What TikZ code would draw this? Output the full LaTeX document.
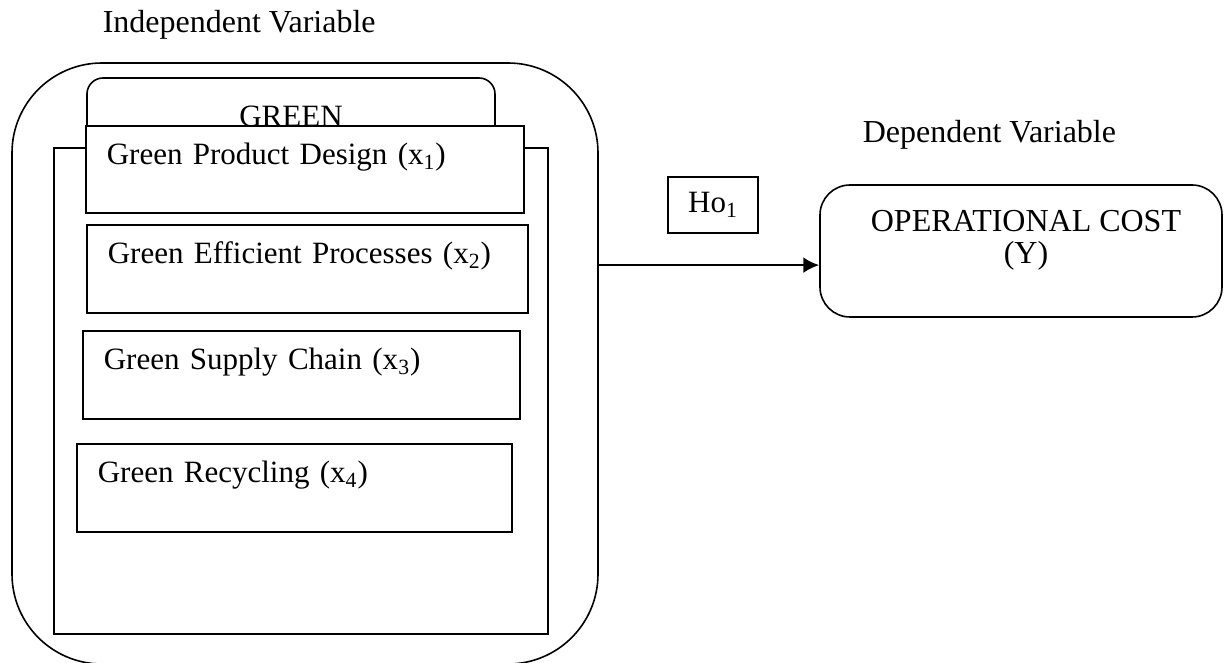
\documentclass[tikz,border=0pt]{standalone}
\usepackage{fontspec}
\setmainfont{Liberation Serif}
\usetikzlibrary{arrows.meta}

\begin{document}
\begin{tikzpicture}[x=0.5pt,y=-0.5pt,line width=0.8pt]
\tikzset{>={Latex[width=2.8mm,length=2.8mm]}}
\tikzstyle{varbox} =[draw,fill=white,anchor=north west,align=left,inner xsep=10.5pt,inner ysep=0pt,text height=19.5pt,font=\fontsize{15.5}{19}\selectfont]
\tikzstyle{caption} =[anchor=base west,inner sep=0pt,font=\fontsize{16}{19}\selectfont]

\useasboundingbox (0,0) rectangle (1228,663);

\node[caption](iv) at (102,33){Independent Variable};
\node[caption](dv) at (862,143){Dependent Variable};

\node[draw,rounded corners=45pt,minimum width=293pt,minimum height=300.5pt](outer) at (305,363.5){};
\node[draw,rounded corners=8pt,minimum width=204pt,minimum height=38.5pt,font=\fontsize{15.5}{19}\selectfont](green) at (291,116.5){GREEN};
\node[draw,minimum width=247pt,minimum height=243pt](inner) at (301,391){};

\node[varbox,text width=198pt,text depth=24pt](x1) at (85,125){Green Product Design (x\textsubscript{1})};
\node[varbox,text width=199.5pt,text depth=24.5pt](x2) at (86,224){Green Efficient Processes (x\textsubscript{2})};
\node[varbox,text width=197.5pt,text depth=24.5pt](x3) at (82,330){Green Supply Chain (x\textsubscript{3})};
\node[varbox,text width=196.5pt,text depth=24.5pt](x4) at (76,443){Green Recycling (x\textsubscript{4})};

\node[draw,minimum width=45pt,minimum height=28pt,font=\fontsize{15.5}{19}\selectfont](ho) at (713,205){Ho\textsubscript{1}};
\node[draw,rounded corners=15pt,minimum width=201pt,minimum height=66pt,
  label={[name=costtext,align=center,xshift=2.5pt,yshift=5.5pt,font=\fontsize{16}{16}\selectfont]center:OPERATIONAL COST\\(Y)}](cost) at (1021,251){};

\draw [->,line width=1.2pt] (outer.east |- cost.184) to (cost.184);
\end{tikzpicture}
\end{document}
